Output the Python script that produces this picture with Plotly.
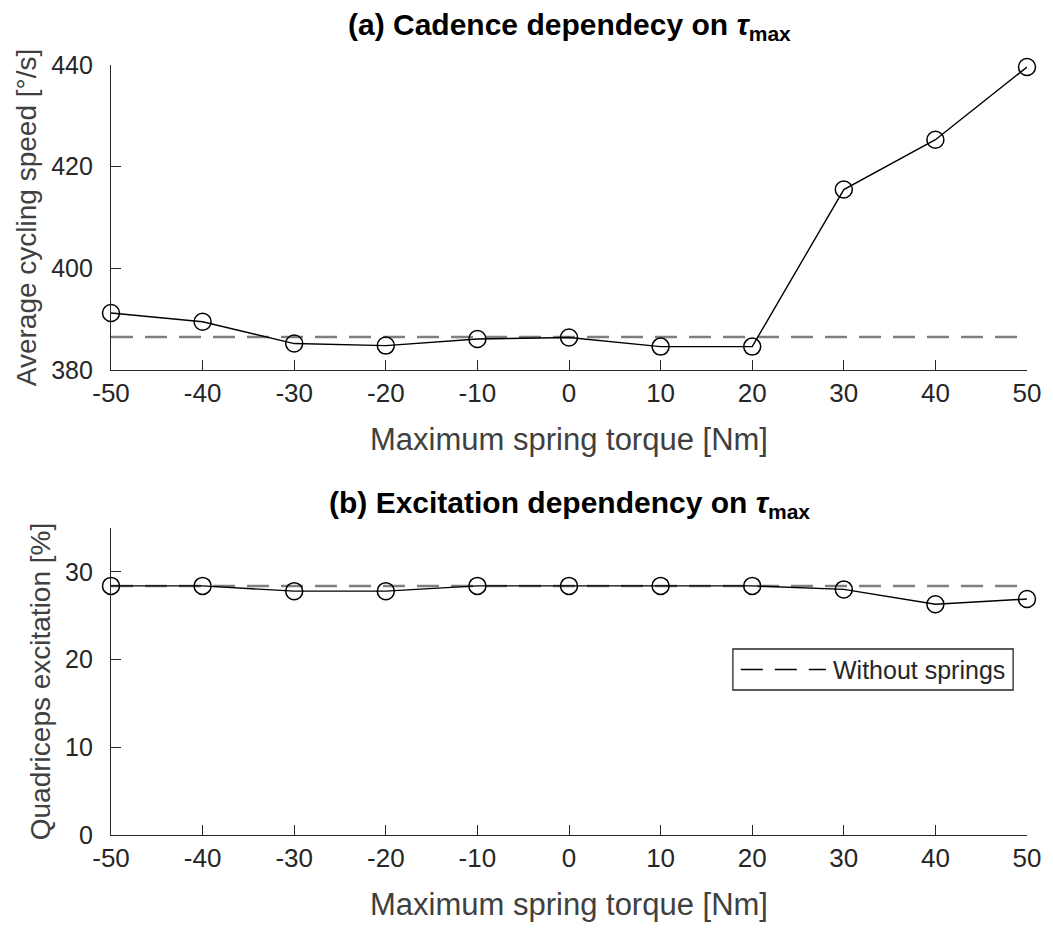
import plotly.graph_objects as go

# ---- data ----
torque = [-50, -40, -30, -20, -10, 0, 10, 20, 30, 40, 50]
cadence = [391.2, 389.5, 385.2, 384.8, 386.1, 386.4, 384.6, 384.6, 415.5, 425.3, 439.6]
cadence_no_spring = 386.5
excitation = [28.4, 28.4, 27.8, 27.8, 28.4, 28.4, 28.4, 28.4, 28.0, 26.3, 26.9]
excitation_no_spring = 28.4
x_ticks = [-50, -40, -30, -20, -10, 0, 10, 20, 30, 40, 50]
x_ticktext = ["-50", "-40", "-30", "-20", "-10", "0", "10", "20", "30", "40", "50"]
y1_ticks = [380, 400, 420, 440]
y2_ticks = [0, 10, 20, 30]

FONT = "Liberation Sans, Arial, Helvetica, sans-serif"
AX = "#262626"
GRAY_DASH = "#7f7f7f"

fig = go.Figure()

# top panel
fig.add_trace(go.Scatter(x=[torque[0], torque[-1]], y=[cadence_no_spring] * 2,
                         mode="lines", line=dict(color=GRAY_DASH, width=2.5, dash="22px,12px"),
                         xaxis="x", yaxis="y", showlegend=False, hoverinfo="skip"))
fig.add_trace(go.Scatter(x=torque, y=cadence, mode="lines+markers",
                         line=dict(color="black", width=1.4),
                         marker=dict(symbol="circle-open", size=17, color="black",
                                     line=dict(width=1.5, color="black")),
                         xaxis="x", yaxis="y", showlegend=False, cliponaxis=False))

# bottom panel
fig.add_trace(go.Scatter(x=[torque[0], torque[-1]], y=[excitation_no_spring] * 2,
                         mode="lines", line=dict(color=GRAY_DASH, width=2.5, dash="22px,12px"),
                         xaxis="x2", yaxis="y2", name="Without springs", showlegend=False,
                         hoverinfo="skip"))
fig.add_trace(go.Scatter(x=torque, y=excitation, mode="lines+markers",
                         line=dict(color="black", width=1.4),
                         marker=dict(symbol="circle-open", size=17, color="black",
                                     line=dict(width=1.5, color="black")),
                         xaxis="x2", yaxis="y2", showlegend=False, cliponaxis=False))

common_x = dict(range=[-50, 50], tickvals=x_ticks, ticktext=x_ticktext, ticks="inside",
                ticklen=10, tickcolor=AX, tickwidth=1.3, showline=True, linecolor=AX,
                linewidth=1.3, showgrid=False, zeroline=False, mirror=False,
                tickfont=dict(family=FONT, size=26, color=AX),
                title=dict(text="Maximum spring torque [Nm]",
                           font=dict(family=FONT, size=31, color="#404040"), standoff=20))
common_y = dict(ticks="inside", ticklen=10, tickcolor=AX, tickwidth=1.3,
                showline=True, linecolor=AX, linewidth=1.3, showgrid=False,
                zeroline=False, mirror=False, ticklabelstandoff=12,
                tickfont=dict(family=FONT, size=25, color=AX))

fig.update_layout(
    width=1053, height=928,
    margin=dict(l=111, r=17, t=65, b=93),
    paper_bgcolor="white", plot_bgcolor="white",
    xaxis=dict(anchor="y", domain=[0, 1], **common_x),
    yaxis=dict(anchor="x", domain=[0.6039, 1.0], range=[380, 440], tickvals=y1_ticks,
               title=dict(text="Average cycling speed [°/s]",
                          font=dict(family=FONT, size=28, color="#404040"), standoff=6),
               **common_y),
    xaxis2=dict(anchor="y2", domain=[0, 1], **common_x),
    yaxis2=dict(anchor="x2", domain=[0.0, 0.3987], range=[0, 35], tickvals=y2_ticks,
                title=dict(text="Quadriceps excitation [%]",
                           font=dict(family=FONT, size=28, color="#404040"), standoff=6),
                **common_y),
    showlegend=False,
)

# panel titles
fig.add_annotation(text="<b>(a) Cadence dependecy on </b><b><i>τ</i></b><b><sub>max</sub></b>",
                   xref="paper", yref="paper", x=0.5, y=1.0, yshift=39,
                   xanchor="center", yanchor="middle", showarrow=False,
                   font=dict(family=FONT, size=30, color="black"))
fig.add_annotation(text="<b>(b) Excitation dependency on </b><b><i>τ</i></b><b><sub>max</sub></b>",
                   xref="paper", yref="paper", x=0.5, y=0.3987, yshift=24,
                   xanchor="center", yanchor="middle", showarrow=False,
                   font=dict(family=FONT, size=30, color="black"))

# manual legend box in bottom panel
W = 1053 - 111 - 17
lx0, lx1 = (739 - 111) / W, (1022 - 111) / W
ly1, ly0 = (835 - 649) / 770, (835 - 690) / 770
fig.add_shape(type="rect", xref="paper", yref="paper", x0=lx0, x1=lx1, y0=ly0, y1=ly1,
              line=dict(color=AX, width=1.3), fillcolor="white", layer="above")
ly_mid = (ly0 + ly1) / 2
fig.add_shape(type="line", xref="paper", yref="paper",
              x0=(747 - 111) / W, x1=(833 - 111) / W, y0=ly_mid, y1=ly_mid,
              line=dict(color="black", width=1.5, dash="22px,12px"), layer="above")
fig.add_annotation(text="Without springs", xref="paper", yref="paper",
                   x=(838 - 111) / W, y=ly_mid, xanchor="left", yanchor="middle",
                   showarrow=False, font=dict(family=FONT, size=25, color=AX))

fig.write_html("out.html")
